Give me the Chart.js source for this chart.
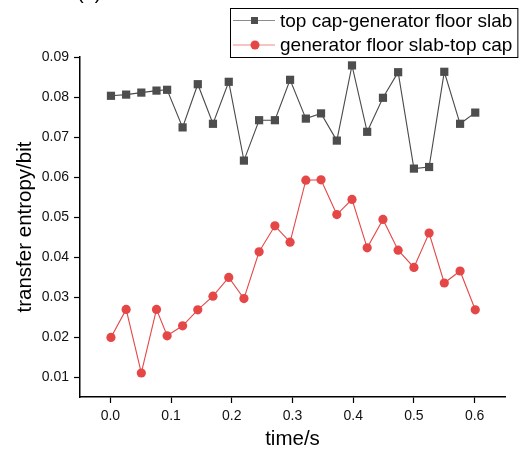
<!DOCTYPE html>
<html>
<head>
<meta charset="utf-8">
<script src="https://cdn.jsdelivr.net/npm/chart.js@4/dist/chart.umd.min.js"></script>
<style>
    html, body { margin: 0; padding: 0; background: #ffffff; }
    #wrap { width: 531px; height: 456px; position: relative; }
</style>
</head>
<body>
<div id="wrap"><canvas id="te-chart"></canvas></div>
<script>
const times = [
    0.001, 0.026, 0.051, 0.076, 0.0935, 0.119, 0.144, 0.169, 0.195, 0.22,
    0.245, 0.271, 0.296, 0.322, 0.347, 0.373, 0.398, 0.423, 0.449, 0.474,
    0.5, 0.525, 0.55, 0.576, 0.601
];

const capToSlab = [
    0.0803, 0.0806, 0.0811, 0.0816, 0.0818, 0.0724, 0.0832, 0.0733, 0.0838, 0.0641,
    0.0742, 0.0742, 0.0843, 0.0746, 0.0759, 0.0691, 0.0879, 0.0713, 0.0798, 0.0862,
    0.0621, 0.0625, 0.0863, 0.0733, 0.0761
];

const slabToCap = [
    0.0199, 0.0269, 0.0110, 0.0269, 0.0203, 0.0228, 0.0268, 0.0302, 0.0349, 0.0296,
    0.0413, 0.0478, 0.0437, 0.0592, 0.0593, 0.0506, 0.0544, 0.0423, 0.0494, 0.0417,
    0.0374, 0.0460, 0.0335, 0.0365, 0.0268
];

const seriesLabels = ["top cap-generator floor slab", "generator floor slab-top cap"];
const xTicks = [0.0, 0.1, 0.2, 0.3, 0.4, 0.5, 0.6];
const yTicks = [0.01, 0.02, 0.03, 0.04, 0.05, 0.06, 0.07, 0.08, 0.09];

const FONT = "'Liberation Sans', Arial, sans-serif";

const isMajor = (list, v) => list.some(t => Math.abs(t - v) < 1e-7);

// legend with a frame, line + marker sample like the original plot
const boxLegend = {
    id: "boxLegend",
    afterDraw(chart) {
        const ctx = chart.ctx;
        const left = 230, top = 8, rowH = 24.5;
        ctx.save();
        ctx.font = "19px " + FONT;
        const widths = chart.data.datasets.map(ds => ctx.measureText(ds.label).width);
        const w = 50 + Math.max(...widths) + 5;
        ctx.lineWidth = 1;
        ctx.strokeStyle = "#000";
        ctx.strokeRect(left + 0.5, top + 0.5, w, rowH * 2);
        chart.data.datasets.forEach((ds, i) => {
            const y = top + 12.5 + i * rowH;
            ctx.strokeStyle = ds.legendLine;
            ctx.lineWidth = 1.2;
            ctx.beginPath();
            ctx.moveTo(left + 3, y);
            ctx.lineTo(left + 45, y);
            ctx.stroke();
            ctx.fillStyle = ds.pointBackgroundColor;
            if (ds.pointStyle === "rect") {
                ctx.fillRect(left + 21, y - 3.5, 7, 7);
            } else {
                ctx.beginPath();
                ctx.arc(left + 25, y, 4.5, 0, Math.PI * 2);
                ctx.fill();
            }
            ctx.fillStyle = "#000";
            ctx.textBaseline = "middle";
            ctx.fillText(ds.label, left + 50, y + 1);
        });
        // panel tag, mostly cut off at the top edge
        ctx.font = "20px " + FONT;
        ctx.textBaseline = "alphabetic";
        ctx.fillText("(b)", 77, -1);
        ctx.restore();
    }
};

const ctx = document.getElementById("te-chart").getContext("2d");

new Chart(ctx, {
    type: "line",
    data: {
        datasets: [
            {
                label: seriesLabels[0],
                data: times.map((t, i) => ({ x: t, y: capToSlab[i] })),
                borderColor: "#4a4a4a",
                borderWidth: 1.1,
                pointStyle: "rect",
                pointRadius: 5.8,
                pointBorderWidth: 0,
                pointBackgroundColor: "#4d4d4d",
                legendLine: "#8c8c8c",
                tension: 0
            },
            {
                label: seriesLabels[1],
                data: times.map((t, i) => ({ x: t, y: slabToCap[i] })),
                borderColor: "#e44848",
                borderWidth: 1.1,
                pointStyle: "circle",
                pointRadius: 4.6,
                pointBorderWidth: 0,
                pointBackgroundColor: "#e54646",
                legendLine: "#f08a8a",
                tension: 0
            }
        ]
    },
    options: {
        responsive: true,
        maintainAspectRatio: false,
        animation: false,
        layout: {
            padding: { top: 57, right: 26, left: 0, bottom: 0 }
        },
        plugins: {
            legend: { display: false },
            tooltip: { enabled: false }
        },
        scales: {
            x: {
                type: "linear",
                min: -0.05,
                max: 0.65,
                afterFit: (scale) => { scale.height = 59; },
                ticks: {
                    stepSize: 0.05,
                    autoSkip: false,
                    maxRotation: 0,
                    padding: 5,
                    color: "#111",
                    font: { family: FONT, size: 14 },
                    callback: (value) => isMajor(xTicks, value) ? value.toFixed(1) : null
                },
                grid: {
                    drawOnChartArea: false,
                    drawTicks: true,
                    tickLength: 6,
                    tickColor: "#000",
                    tickWidth: 1.2,
                    tickBorderDash: (c) => isMajor(xTicks, c.tick.value) ? [] : [3, 20]
                },
                border: { display: true, color: "#000", width: 1.5 },
                title: {
                    display: true,
                    text: "time/s",
                    color: "#000",
                    font: { family: FONT, size: 20.5 },
                    padding: { top: 0, bottom: 4 }
                }
            },
            y: {
                min: 0.005,
                max: 0.09,
                afterFit: (scale) => { scale.width = 80; },
                ticks: {
                    stepSize: 0.005,
                    autoSkip: false,
                    padding: 5,
                    color: "#111",
                    font: { family: FONT, size: 14 },
                    callback: (value) => isMajor(yTicks, value) ? value.toFixed(2) : null
                },
                grid: {
                    drawOnChartArea: false,
                    drawTicks: true,
                    tickLength: 6,
                    tickColor: "#000",
                    tickWidth: 1.2,
                    tickBorderDash: (c) => isMajor(yTicks, c.tick.value) ? [] : [3, 20]
                },
                border: { display: true, color: "#000", width: 1.5 },
                title: {
                    display: true,
                    text: "transfer entropy/bit",
                    color: "#000",
                    font: { family: FONT, size: 20.5 },
                    padding: { top: 13, bottom: 0 }
                }
            }
        }
    },
    plugins: [boxLegend]
});
</script>
</body>
</html>
